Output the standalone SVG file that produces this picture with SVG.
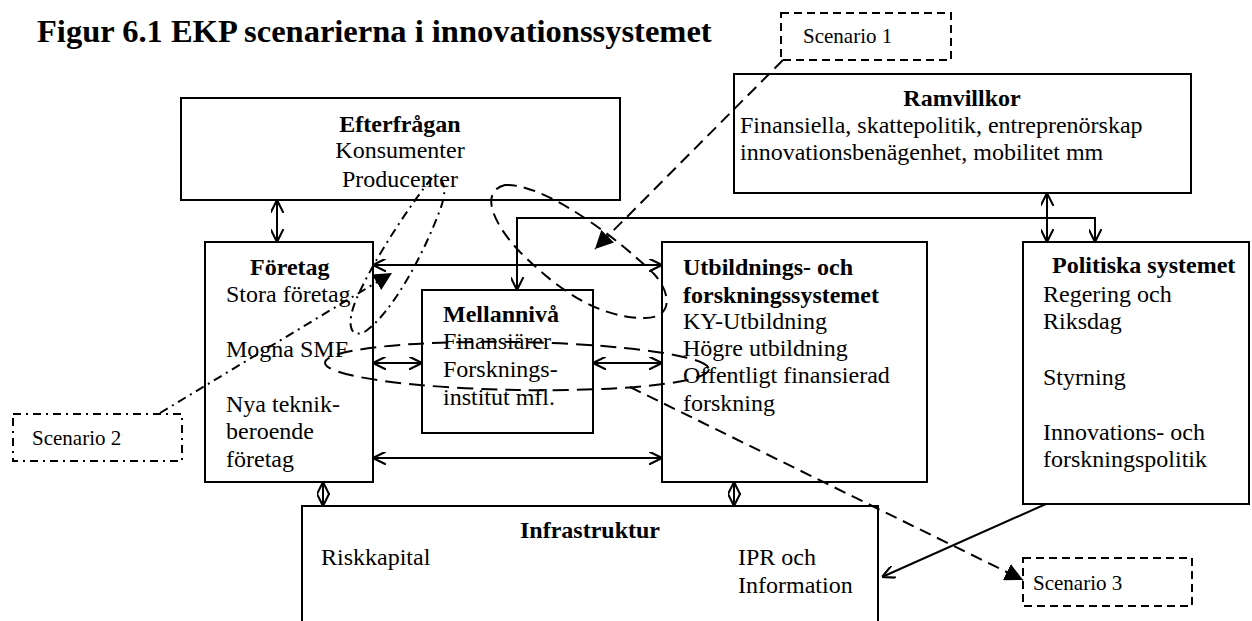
<svg xmlns="http://www.w3.org/2000/svg" width="1252" height="621" viewBox="0 0 1252 621">
<defs>
<style>
.box{fill:#fff;stroke:#000;stroke-width:2}
.sc{fill:none;stroke:#000;stroke-width:2;stroke-dasharray:8,5}
.scdd{fill:none;stroke:#000;stroke-width:2;stroke-dasharray:8,5,2,5}
text{font-family:"Liberation Serif","Times New Roman",serif;font-size:24px;fill:#000}
.b{font-weight:bold}
.s{font-size:21px}
.c{text-anchor:middle}
.ln{fill:none;stroke:#000;stroke-width:2}
.dash{fill:none;stroke:#000;stroke-width:2;stroke-dasharray:12,7}
.dash2{fill:none;stroke:#000;stroke-width:2;stroke-dasharray:16,8}
.dd{fill:none;stroke:#000;stroke-width:2;stroke-dasharray:9,5,2,5}
</style>
<marker id="a" viewBox="0 0 10 10" refX="10" refY="5" markerWidth="13" markerHeight="13" markerUnits="userSpaceOnUse" orient="auto-start-reverse">
<path d="M0,0 L10,5 L0,10" fill="none" stroke="#000" stroke-width="1.6"/>
</marker>
<marker id="f" viewBox="0 0 10 10" refX="10" refY="5" markerWidth="18" markerHeight="18" markerUnits="userSpaceOnUse" orient="auto">
<path d="M0,0 L10,5 L0,10 z" fill="#000"/>
</marker>
</defs>
<rect width="1252" height="621" fill="#fff"/>
<text x="37" y="42" class="b" style="font-size:32.5px">Figur 6.1 EKP scenarierna i innovationssystemet</text>

<g id="scenario1">
<rect class="sc" x="781" y="13" width="170" height="47"/>
<text class="s" x="803" y="43">Scenario 1</text>
</g>
<g id="efterfragan">
<rect class="box" x="181" y="98" width="439" height="102"/>
<text class="b c" x="400" y="132">Efterfrågan</text>
<text class="c" x="400" y="158">Konsumenter</text>
<text class="c" x="400" y="187">Producenter</text>
</g>
<g id="ramvillkor">
<rect class="box" x="734" y="74" width="457" height="119"/>
<text class="b c" x="962" y="106">Ramvillkor</text>
<text x="740" y="133">Finansiella, skattepolitik, entreprenörskap</text>
<text x="740" y="160">innovationsbenägenhet, mobilitet mm</text>
</g>
<g id="foretag">
<rect class="box" x="205" y="242" width="168" height="240"/>
<text class="b" x="250" y="275">Företag</text>
<text x="226" y="302">Stora företag</text>
<text x="226" y="357">Mogna SMF</text>
<text x="226" y="412">Nya teknik-</text>
<text x="226" y="439">beroende</text>
<text x="226" y="467">företag</text>
</g>
<g id="mellanniva">
<rect class="box" x="422" y="290" width="171" height="143"/>
<text class="b" x="443" y="322">Mellannivå</text>
<text x="443" y="349">Finansiärer</text>
<text x="443" y="377">Forsknings-</text>
<text x="443" y="405">institut mfl.</text>
</g>
<g id="utbildning">
<rect class="box" x="662" y="242" width="265" height="240"/>
<text class="b" x="683" y="275">Utbildnings- och</text>
<text class="b" x="683" y="303">forskningssystemet</text>
<text x="683" y="329">KY-Utbildning</text>
<text x="683" y="356">Högre utbildning</text>
<text x="683" y="383">Offentligt finansierad</text>
<text x="683" y="411">forskning</text>
</g>
<g id="politiska">
<rect class="box" x="1023" y="242" width="226" height="262"/>
<text class="b" x="1052" y="273">Politiska systemet</text>
<text x="1043" y="302">Regering och</text>
<text x="1043" y="329">Riksdag</text>
<text x="1043" y="385">Styrning</text>
<text x="1043" y="440">Innovations- och</text>
<text x="1043" y="467">forskningspolitik</text>
</g>
<g id="infrastruktur">
<rect class="box" x="302" y="506" width="576" height="130"/>
<text class="b c" x="590" y="538">Infrastruktur</text>
<text x="321" y="565">Riskkapital</text>
<text x="738" y="565">IPR och</text>
<text x="738" y="593">Information</text>
</g>
<g id="scenario2">
<rect class="scdd" x="13" y="414" width="169" height="47"/>
<text class="s" x="32" y="445">Scenario 2</text>
</g>
<g id="scenario3">
<rect class="sc" x="1023" y="558" width="169" height="48"/>
<text class="s" x="1033" y="590">Scenario 3</text>
</g>

<g id="connectors">
<line class="ln" x1="277" y1="200" x2="277" y2="242" marker-start="url(#a)" marker-end="url(#a)"/>
<line class="ln" x1="373" y1="265" x2="662" y2="265" marker-start="url(#a)" marker-end="url(#a)"/>
<line class="ln" x1="373" y1="363" x2="422" y2="363" marker-start="url(#a)" marker-end="url(#a)"/>
<line class="ln" x1="593" y1="363" x2="662" y2="363" marker-start="url(#a)" marker-end="url(#a)"/>
<line class="ln" x1="373" y1="458" x2="662" y2="458" marker-start="url(#a)" marker-end="url(#a)"/>
<line class="ln" x1="1047" y1="193" x2="1047" y2="242" marker-start="url(#a)" marker-end="url(#a)"/>
<path class="ln" d="M517,290 L517,218 L1095,218 L1095,242" marker-start="url(#a)" marker-end="url(#a)"/>
<line class="ln" x1="323" y1="482" x2="323" y2="506" marker-start="url(#a)" marker-end="url(#a)"/>
<line class="ln" x1="734" y1="482" x2="734" y2="506" marker-start="url(#a)" marker-end="url(#a)"/>
<line class="ln" x1="1046" y1="504" x2="882" y2="577" marker-end="url(#a)"/>

<line class="dash" x1="783" y1="60" x2="595" y2="249" marker-end="url(#f)"/>
<path class="dash" d="M505,185 C545,183 620,240 655,275 C672,295 672,318 645,318 C600,318 560,292 520,252 C495,226 478,192 505,185 Z"/>

<line class="dd" x1="160" y1="413" x2="392" y2="273" marker-end="url(#f)"/>
<path class="dd" d="M432,178 C412,202 372,262 356,300 C346,324 350,340 366,331 C392,312 422,258 440,210 C446,194 446,184 438,176"/>

<ellipse class="dash2" cx="517" cy="366" rx="192" ry="24" transform="rotate(1 517 366)"/>
<line class="dash" x1="630" y1="387" x2="1023" y2="580" marker-end="url(#f)"/>
</g>
</svg>
